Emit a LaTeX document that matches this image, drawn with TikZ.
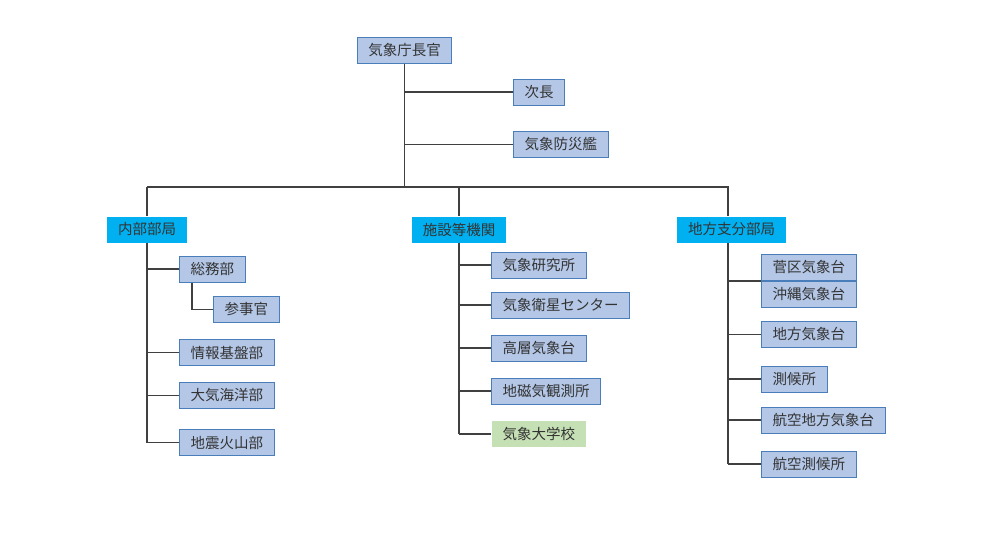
\documentclass[tikz,border=0pt]{standalone}
\usepackage{fontspec}
\setmainfont{Noto Sans CJK JP}
\definecolor{unitfill}{HTML}{B4C7E7}
\definecolor{unitline}{HTML}{4A7EBB}
\definecolor{groupfill}{HTML}{00B0F0}
\definecolor{schoolfill}{HTML}{C5E0B4}
\tikzset{
  unit/.style={draw=unitline,fill=unitfill,line width=1pt,minimum height=26pt,
    inner xsep=11pt,font=\fontsize{14.5pt}{16pt}\selectfont,text=black!80,anchor=west},
  group/.style={unit,draw=none,fill=groupfill},
  school/.style={unit,draw=none,fill=schoolfill},
  link/.style={black!75,line width=1.3pt}
}
\begin{document}
\begin{tikzpicture}[x=1pt,y=-1pt]
  \useasboundingbox (0,0) rectangle (995,535);
  % top
  \node[unit,anchor=center] (chief) at (404.5,50.5) {気象庁長官};
  \node[unit] (jicho) at (513,92) {次長};
  \node[unit] (bosai) at (513,144.5) {気象防災艦};
  \coordinate (bar) at (0,187);
  % groups
  \node[group,anchor=center] (naibu) at (147,229.5) {内部部局};
  \node[group,anchor=center] (shisetsu) at (459,229.5) {施設等機関};
  \node[group,anchor=center] (chiho) at (731.5,229.5) {地方支分部局};
  \coordinate (chtop) at ([xshift=-3.5pt]chiho.north);
  \coordinate (chbot) at ([xshift=-3.5pt]chiho.south);
  % left column
  \node[unit] (somu) at (179,269) {総務部};
  \node[unit] (sanji) at (213,309.5) {参事官};
  \node[unit] (joho) at (179,352.5) {情報基盤部};
  \node[unit] (taiki) at (179,395.5) {大気海洋部};
  \node[unit] (jishin) at (179,442.5) {地震火山部};
  % middle column
  \node[unit] (kenkyu) at (491,265) {気象研究所};
  \node[unit] (eisei) at (491,305) {気象衛星センター};
  \node[unit] (koso) at (491,348) {高層気象台};
  \node[unit] (chijiki) at (491,391) {地磁気観測所};
  \node[school] (daigaku) at (491,434) {気象大学校};
  % right column
  \node[unit] (kanku) at (761,267.5) {菅区気象台};
  \node[unit,anchor=north west] (okinawa) at (kanku.south west) {沖縄気象台};
  \node[unit] (chihodai) at (761,334.5) {地方気象台};
  \node[unit] (sokko) at (761,379) {測候所};
  \node[unit] (kokuchiho) at (761,420) {航空地方気象台};
  \node[unit] (kokusokko) at (761,464) {航空測候所};
  % connectors
  \draw[link] (chief.south) -- (chief.south |- bar);
  \draw[link] (chief.south |- jicho.west) -- (jicho.west);
  \draw[link] (chief.south |- bosai.west) -- (bosai.west);
  \draw[link] (naibu.north |- bar) -- (chtop |- bar) -- (chtop);
  \draw[link] (naibu.north |- bar) -- (naibu.north);
  \draw[link] (shisetsu.north |- bar) -- (shisetsu.north);
  \draw[link] (naibu.south) -- (naibu.south |- jishin.west);
  \foreach \n in {somu,joho,taiki,jishin}
    \draw[link] (naibu.south |- \n.west) -- (\n.west);
  \draw[link] ([xshift=13pt]somu.south west) |- (sanji.west);
  \draw[link] (shisetsu.south) -- (shisetsu.south |- daigaku.west);
  \foreach \n in {kenkyu,eisei,koso,chijiki,daigaku}
    \draw[link] (shisetsu.south |- \n.west) -- (\n.west);
  \draw[link] (chbot) -- (chbot |- kokusokko.west);
  \draw[link] (chbot |- kanku.south west) -- (kanku.south west);
  \foreach \n in {chihodai,sokko,kokuchiho,kokusokko}
    \draw[link] (chbot |- \n.west) -- (\n.west);
\end{tikzpicture}
\end{document}
